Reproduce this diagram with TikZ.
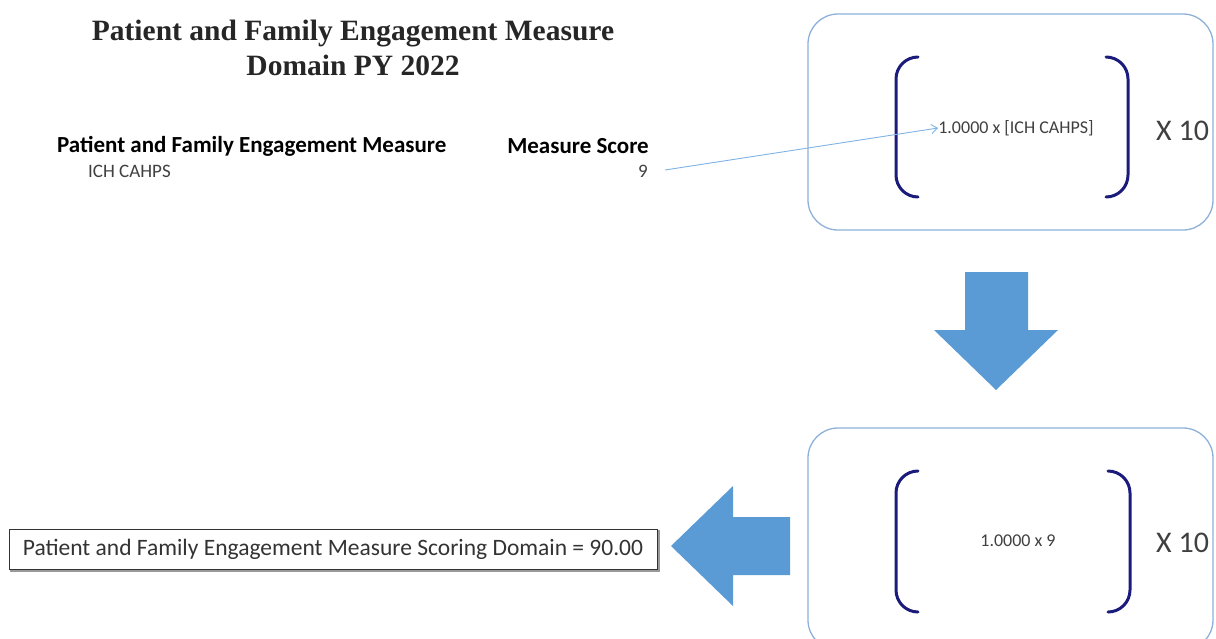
\documentclass[tikz,border=0pt]{standalone}
\usepackage{fontspec}
\setmainfont{Carlito}
\newfontfamily\titlefont{Liberation Serif}
\usetikzlibrary{arrows.meta,shapes.arrows}
\definecolor{boxline}{HTML}{8EB1D9}
\definecolor{navy}{HTML}{1B1B7C}
\definecolor{fillblue}{HTML}{5B9BD5}
\definecolor{thinblue}{HTML}{7FB2E5}
\definecolor{txtgray}{HTML}{404040}
\tikzset{
  panel/.style={draw=boxline, line width=1.3pt, rounded corners=30pt},
  bracket/.style={draw=navy, line width=3pt, line cap=round, rounded corners=22pt},
  formula/.style={font=\fontsize{18}{20}\selectfont, text=txtgray, inner sep=0pt},
  times/.style={font=\fontsize{30}{32}\selectfont, text=txtgray, anchor=west, inner sep=0pt},
  bigarrow/.style={fill=fillblue, draw=none},
}
\begin{document}
\begin{tikzpicture}[x=1pt,y=-1pt]
\useasboundingbox (0,0) rectangle (1216,638);
% title
\node[font=\titlefont\bfseries\fontsize{29.5}{35}\selectfont, align=center, text=black!85] (title) at (353,48)
  {Patient and Family Engagement Measure\\Domain PY 2022};
% table
\node[font=\bfseries\fontsize{23}{25}\selectfont, anchor=west, inner sep=0pt] (hdr1) at (57,146) {Patient and Family Engagement Measure};
\node[font=\bfseries\fontsize{23}{25}\selectfont, anchor=east, inner sep=0pt] (hdr2) at (649,146) {Measure Score};
\node[font=\fontsize{19}{21}\selectfont, anchor=west, inner sep=0pt, text=txtgray] (ich) at (88,171) {ICH CAHPS};
\node[font=\fontsize{19}{21}\selectfont, anchor=east, inner sep=0pt, text=txtgray] (nine) at (648,171) {9};
% top panel
\draw[panel] (808,14) rectangle (1213,230);
\draw[bracket] (918,57) -| (896,197) -- (918,197);
\draw[bracket] (1106,57) -| (1128,197) -- (1106,197);
\node[formula] (f1) at (1016,128) {1.0000 x [ICH CAHPS]};
\node[times] (x1) at (1156,131) {X 10};
\coordinate (arrstart) at (665,170);
\draw[thinblue, line width=0.9pt, -{Straight Barb[length=6pt,width=9pt]}] (arrstart) -- (f1.west);
% down arrow
\fill[bigarrow] (965,272) -- (1028,272) -- (1028,330) -- (1058,330) -- (996,390) -- (934,330) -- (965,330) -- cycle;
% bottom panel
\draw[panel] (808,428) rectangle (1213,650);
\draw[bracket] (918,471) -| (896,612) -- (918,612);
\draw[bracket] (1108,471) -| (1130,612) -- (1108,612);
\node[formula] (f2) at (1018,541) {1.0000 x 9};
\node[times] (x2) at (1156,543) {X 10};
% left arrow
\fill[bigarrow] (790,517) -- (790,575) -- (733,575) -- (733,606) -- (671,546) -- (733,486) -- (733,517) -- cycle;
% result
\draw[black!40, line width=1.5pt] (11,531) rectangle (659,571);
\node[draw=black!80, fill=white, line width=0.8pt, minimum width=648pt, minimum height=40pt, inner sep=0pt,
  font=\fontsize{23.5}{25}\selectfont, text=txtgray!80!black] (result) at (333,549) {Patient and Family Engagement Measure Scoring Domain = 90.00};
\end{tikzpicture}
\end{document}
